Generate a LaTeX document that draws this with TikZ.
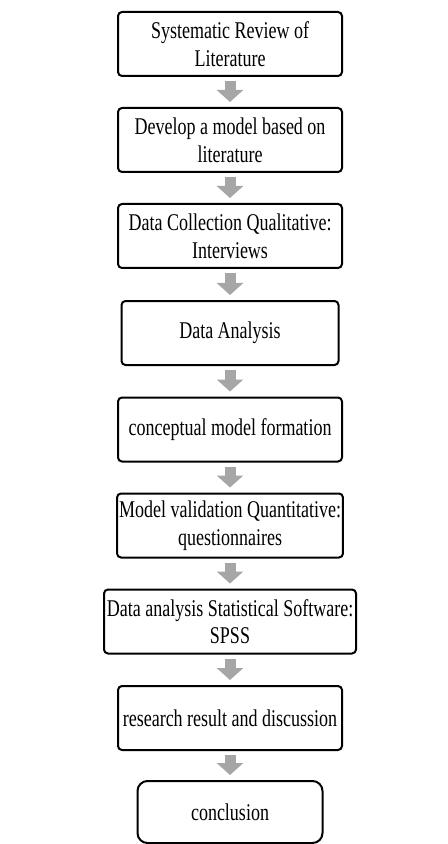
\documentclass[tikz,border=0pt]{standalone}
\usepackage{fontspec}
\setmainfont{Liberation Serif}[FakeStretch=0.75]
\usetikzlibrary{arrows.meta}
\definecolor{arrowgray}{HTML}{A6A6A6}
\tikzset{
	stagebox/.style={draw=black, line width=1pt, rounded corners=2pt, minimum height=32pt, align=center, inner sep=1pt, font=\fontsize{12}{13.8}\selectfont},
	flowarrow/.style={draw=arrowgray, line width=5.5pt, -{Triangle[width=13pt,length=6pt]}, shorten <=2pt, shorten >=2.5pt},
}

\begin{document}
\begin{tikzpicture}[x=0.5pt, y=-0.5pt]

	\def\xMid{230}
	\def\wBox{112pt}
	\useasboundingbox (0,0) rectangle (448,844);

	%BOXES
	\node[stagebox, minimum width=\wBox] (sysrev) at (\xMid,44) {Systematic Review of\\Literature};
	\node[stagebox, minimum width=\wBox] (devmodel) at (\xMid,140) {Develop a model based on\\literature};
	\node[stagebox, minimum width=\wBox] (collect) at (\xMid,236) {Data Collection Qualitative:\\Interviews};
	\node[stagebox, minimum width=108.5pt] (analysis) at (\xMid,333) {Data Analysis};
	\node[stagebox, minimum width=\wBox] (concept) at (\xMid,429.5) {conceptual model formation};
	\node[stagebox, minimum width=\wBox] (validate) at (\xMid,525.5) {Model validation Quantitative:\\questionnaires};
	\node[stagebox, minimum width=126pt] (spss) at (\xMid,621.5) {Data analysis Statistical Software:\\SPSS};
	\node[stagebox, minimum width=\wBox] (result) at (\xMid,718) {research result and discussion};
	\node[stagebox, minimum width=92.5pt, minimum height=31pt, rounded corners=5pt] (conclude) at (\xMid,812) {conclusion};

	%ARROWS
	\foreach \from/\to in {sysrev/devmodel, devmodel/collect, collect/analysis, analysis/concept, concept/validate, validate/spss, spss/result, result/conclude}
		\draw[flowarrow] (\from) -- (\to);

\end{tikzpicture}
\end{document}
